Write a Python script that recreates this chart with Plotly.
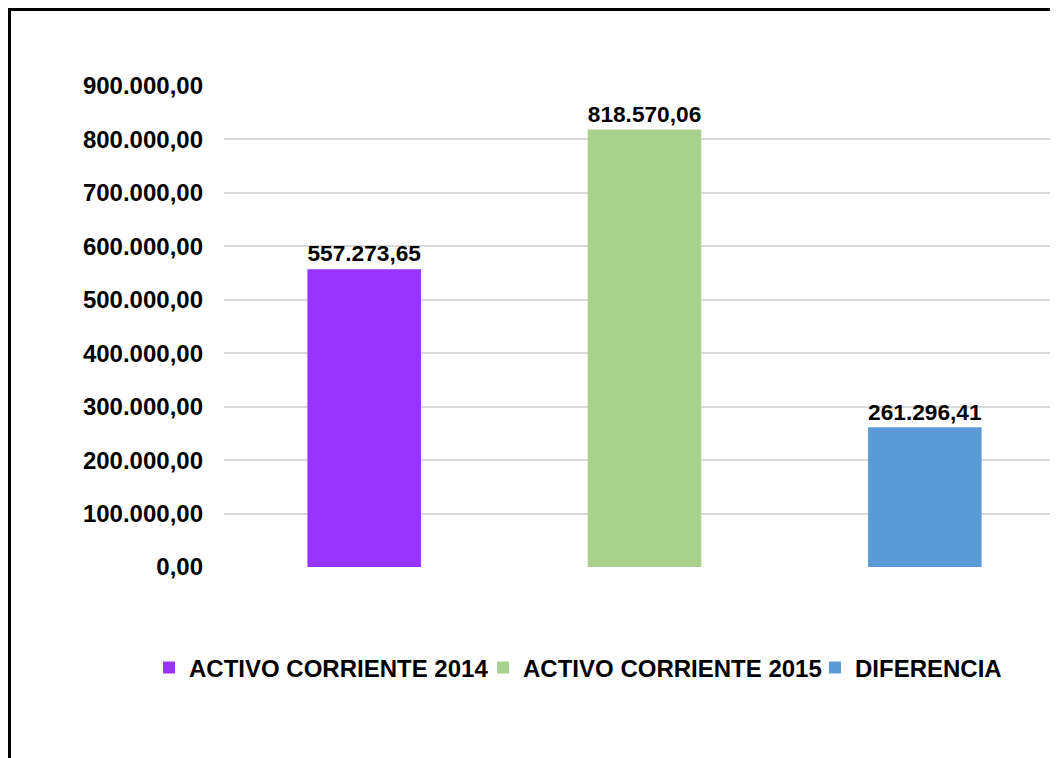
import plotly.graph_objects as go

series_names = ["ACTIVO CORRIENTE 2014", "ACTIVO CORRIENTE 2015", "DIFERENCIA"]
values = [557273.65, 818570.06, 261296.41]
value_labels = ["557.273,65", "818.570,06", "261.296,41"]
colors = ["#9933FF", "#A9D18E", "#5B9BD5"]
tick_vals = [0, 100000, 200000, 300000, 400000, 500000, 600000, 700000, 800000, 900000]
tick_text = ["0,00", "100.000,00", "200.000,00", "300.000,00", "400.000,00",
             "500.000,00", "600.000,00", "700.000,00", "800.000,00", "900.000,00"]

FONT = "Liberation Sans, Arial, sans-serif"
legend_ids = ["legend", "legend2", "legend3"]
legend_x = [-0.0899, 0.3106, 0.7086]

fig = go.Figure()
for i, (name, v, lab, c) in enumerate(zip(series_names, values, value_labels, colors)):
    fig.add_trace(go.Bar(
        x=[i], y=[v], name=name, marker=dict(color=c, line=dict(width=0)),
        width=0.405, text=[lab], textposition="outside", cliponaxis=False,
        textfont=dict(family=FONT, size=24, color="black", weight="bold"),
        legend=legend_ids[i],
    ))

legend_font = dict(family=FONT, size=24, color="black", weight="bold")
legends = {}
for lid, lx in zip(legend_ids, legend_x):
    legends[lid] = dict(orientation="h", x=lx, xanchor="left", y=-0.21, yanchor="middle",
                        font=legend_font, itemwidth=30,
                        bgcolor="rgba(0,0,0,0)", borderwidth=0)

fig.update_layout(
    width=1050, height=750,
    margin=dict(l=216, r=0, t=78, b=191),
    paper_bgcolor="white", plot_bgcolor="white",
    barmode="overlay",
    showlegend=True,
    xaxis=dict(range=[-0.5, 2.475], showticklabels=False, showgrid=False,
               zeroline=False, showline=False, fixedrange=True),
    yaxis=dict(range=[0, 900000], tickvals=tick_vals, ticktext=tick_text,
               showgrid=True, gridcolor="#D9D9D9", gridwidth=2,
               zeroline=False, showline=False, ticks="", ticklabelstandoff=20,
               tickfont=dict(family=FONT, size=24, color="black", weight="bold")),
    shapes=[dict(type="rect", xref="paper", yref="paper",
                 x0=-0.2572, x1=1.05, y0=-0.6, y1=1.159,
                 line=dict(color="black", width=3), fillcolor="rgba(0,0,0,0)",
                 layer="above")],
    **legends,
)

fig.write_html("out.html")
